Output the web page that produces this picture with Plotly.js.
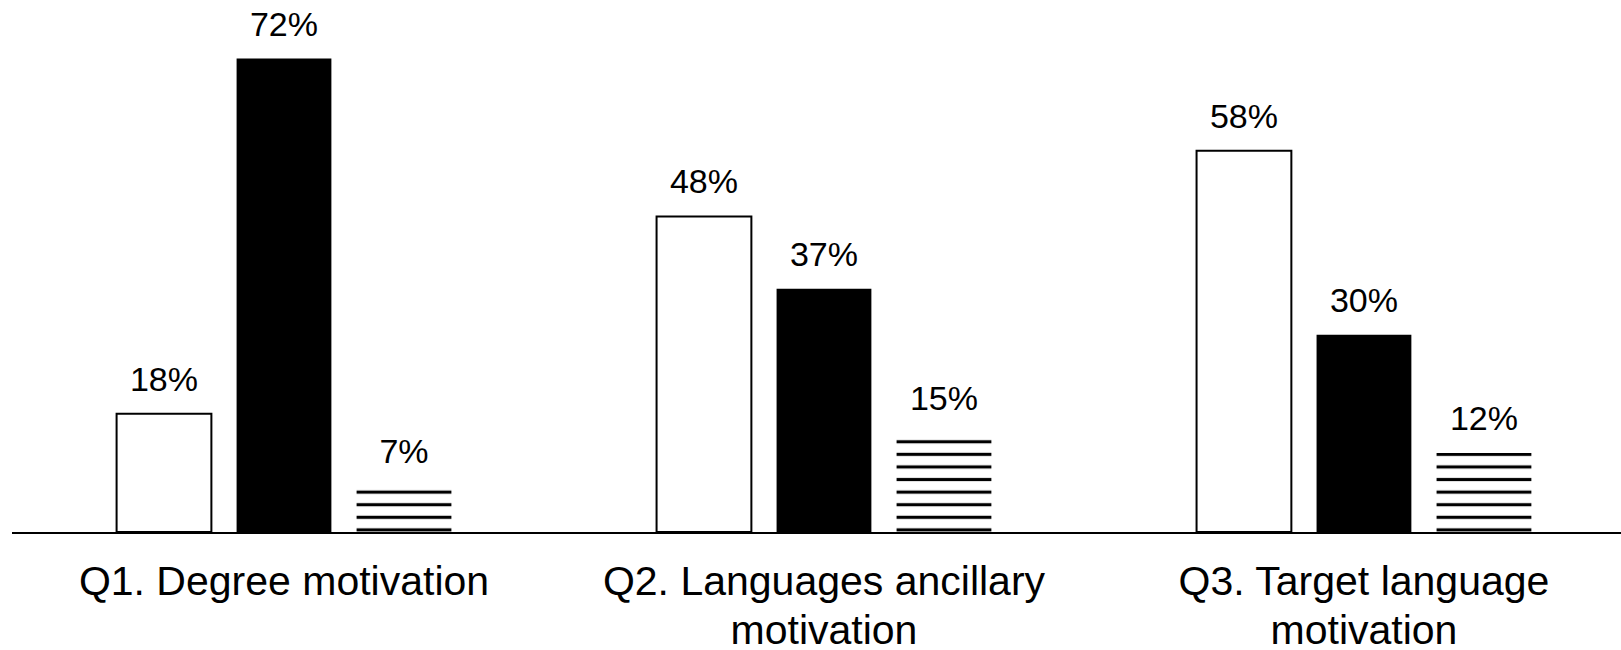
<!DOCTYPE html>
<html>
<head>
<meta charset="utf-8">
<script src="https://cdn.plot.ly/plotly-3.0.1.min.js"></script>
<style>html,body{margin:0;padding:0;background:#fff;}#chart{width:1621px;height:650px;}</style>
</head>
<body>
<div id="chart"></div>
<script>
var categories = ["Q1. Degree motivation", "Q2. Languages ancillary<br>motivation", "Q3. Target language<br>motivation"];
var seriesWhite = [18, 48, 58];
var seriesBlack = [72, 37, 30];
var seriesHatched = [7, 15, 12];

var FONT = "Liberation Sans, Arial, sans-serif";

function labels(vals) {
  return vals.map(function (v) { return "<span style='font-size:34px'>" + v + "%</span><br>&nbsp;"; });
}
var tickText = categories.map(function (c) {
  return c.split("<br>").map(function (s) { return "<span style='font-size:41px'>" + s + "</span>"; }).join("<br>");
});

var common = {
  type: "bar",
  x: categories,
  textposition: "outside",
  cliponaxis: false,
  constraintext: "none",
  textfont: {family: FONT, size: 13, color: "#000"},
  hoverinfo: "skip",
  showlegend: false
};

var traces = [
  Object.assign({}, common, {
    y: seriesWhite, text: labels(seriesWhite),
    marker: {color: "#ffffff", line: {color: "#000", width: 2}}
  }),
  Object.assign({}, common, {
    y: seriesBlack, text: labels(seriesBlack),
    marker: {color: "#000000", line: {color: "#000", width: 0}}
  }),
  Object.assign({}, common, {
    y: seriesHatched, text: labels(seriesHatched),
    marker: {color: "#ffffff", line: {width: 0},
      pattern: {shape: "-", fgcolor: "#000", bgcolor: "#fff", size: 12.59, solidity: 0.25}}
  })
];

var layout = {
  width: 1621, height: 650,
  margin: {l: 12, r: 0, t: 20, b: 118},
  paper_bgcolor: "#fff", plot_bgcolor: "#fff",
  barmode: "group", bargap: 0.3333, bargroupgap: 0.21,
  font: {family: FONT, color: "#000"},
  xaxis: {
    type: "category",
    range: [-0.5037, 2.476],
    tickmode: "array", tickvals: categories, ticktext: tickText,
    tickfont: {family: FONT, size: 37, color: "#000"},
    ticklabelstandoff: 17,
    showline: true, linecolor: "#000", linewidth: 2,
    ticks: "", showgrid: false, zeroline: false
  },
  yaxis: {
    range: [0, 77.87],
    visible: false, showgrid: false, zeroline: false
  }
};

Plotly.newPlot("chart", traces, layout, {displayModeBar: false, staticPlot: true});
</script>
</body>
</html>
